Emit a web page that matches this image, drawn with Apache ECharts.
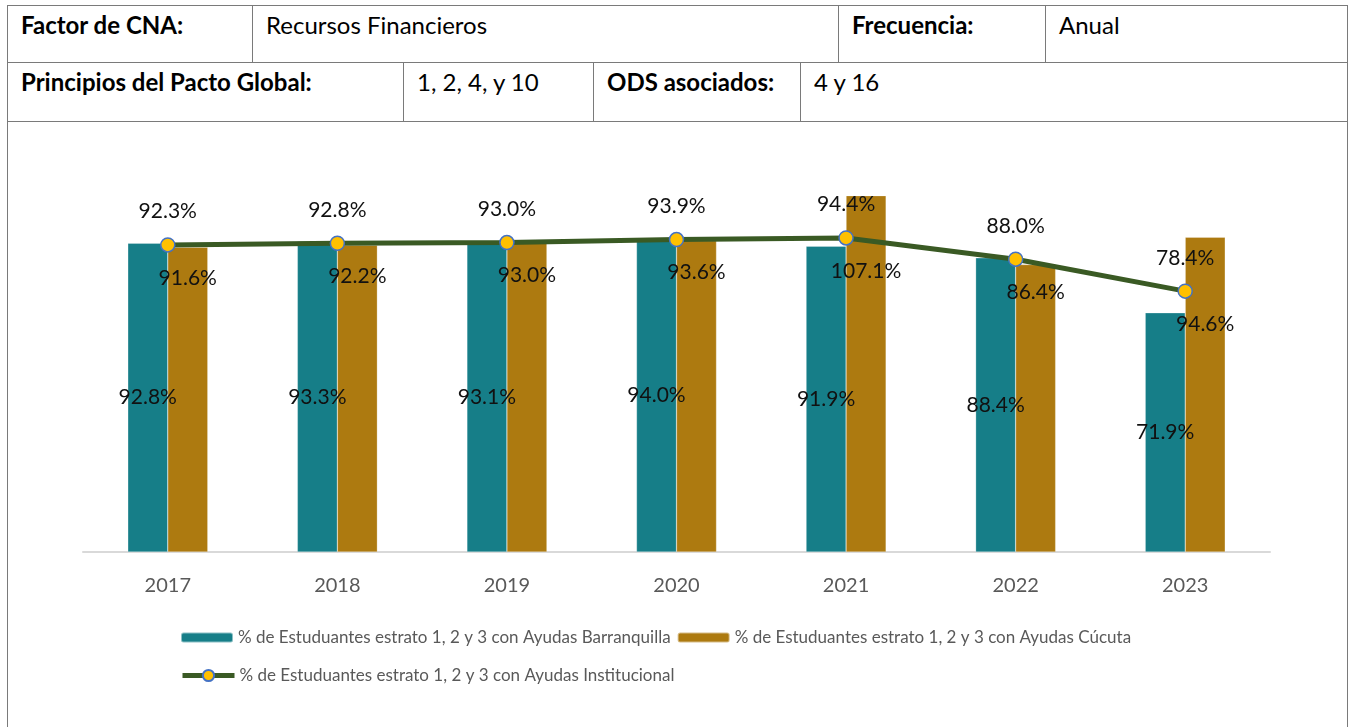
<!DOCTYPE html>
<html>
<head>
<meta charset="utf-8">
<script src="https://cdn.jsdelivr.net/npm/echarts@6/dist/echarts.min.js"></script>
<style>
  html, body { margin: 0; padding: 0; background: #fff; }
  body { width: 1352px; height: 727px; position: relative; overflow: hidden; font-family: Lato, "Noto Sans", sans-serif; }
  #chart { position: absolute; left: 0; top: 0; width: 1352px; height: 727px; }
  .cell {
    position: absolute; box-sizing: border-box; border: 1px solid #7a7a7a;
    background: #fff; font-size: 24px; line-height: 28px; color: #000;
    padding: 5px 0 0 13px; white-space: nowrap;
  }
  .b { font-weight: bold; }
  .frame { position: absolute; top: 121px; width: 1px; height: 606px; background: #7a7a7a; }
</style>
</head>
<body>
<div id="chart"></div>
<!-- tabla de encabezado -->
<div class="cell b" style="left:7px;top:5px;width:246px;height:58px;">Factor de CNA:</div>
<div class="cell" style="left:252px;top:5px;width:587px;height:58px;">Recursos Financieros</div>
<div class="cell b" style="left:838px;top:5px;width:208px;height:58px;">Frecuencia:</div>
<div class="cell" style="left:1045px;top:5px;width:303px;height:58px;">Anual</div>
<div class="cell b" style="left:7px;top:62px;width:397px;height:60px;">Principios del Pacto Global:</div>
<div class="cell" style="left:403px;top:62px;width:191px;height:60px;">1, 2, 4, y 10</div>
<div class="cell b" style="left:593px;top:62px;width:208px;height:60px;">ODS asociados:</div>
<div class="cell" style="left:800px;top:62px;width:548px;height:60px;">4 y 16</div>
<div class="frame" style="left:7px;"></div>
<div class="frame" style="left:1347px;"></div>

<script>
var years = ["2017", "2018", "2019", "2020", "2021", "2022", "2023"];
var barranquilla = [92.8, 93.3, 93.1, 94.0, 91.9, 88.4, 71.9];
var cucuta = [91.6, 92.2, 93.0, 93.6, 107.1, 86.4, 94.6];
var institucional = [92.3, 92.8, 93.0, 93.9, 94.4, 88.0, 78.4];

var nameB = "% de Estuduantes estrato 1, 2 y 3 con Ayudas Barranquilla";
var nameC = "% de Estuduantes estrato 1, 2 y 3 con Ayudas Cúcuta";
var nameI = "% de Estuduantes estrato 1, 2 y 3 con Ayudas Institucional";

var fontFam = "Lato, 'Noto Sans', sans-serif";
var pct = function (v) { return v.toFixed(1) + "%"; };

var myChart = echarts.init(document.getElementById("chart"));
var legendText = { fontFamily: fontFam, fontSize: 17, color: "#595959" };

var option = {
  animation: false,
  grid: { left: 83, right: 82, top: 186, bottom: 175 },
  legend: [
    {
      data: [nameB, nameC],
      left: 175, top: 624,
      itemWidth: 52, itemHeight: 10, itemGap: 6,
      textStyle: legendText
    },
    {
      data: [nameI],
      left: 175, top: 662,
      itemWidth: 52, itemHeight: 14,
      lineStyle: { width: 5 },
      textStyle: legendText
    }
  ],
  xAxis: {
    type: "category",
    data: years,
    axisTick: { show: false },
    axisLine: { lineStyle: { color: "#d9d9d9", width: 2 } },
    axisLabel: { fontFamily: fontFam, fontSize: 20, color: "#595959", margin: 24 }
  },
  yAxis: {
    type: "value",
    min: 0,
    max: 110,
    show: false,
    splitLine: { show: false }
  },
  series: [
    {
      name: nameB,
      type: "bar",
      data: barranquilla,
      barWidth: 40,
      barGap: "0%",
      itemStyle: { color: "#167e88", borderColor: "rgba(255,255,255,0.5)", borderWidth: 0.5 },
      label: {
        show: true, position: "inside",
        fontFamily: fontFam, fontSize: 21, color: "#111",
        formatter: function (p) { return pct(p.value); }
      }
    },
    {
      name: nameC,
      type: "bar",
      data: cucuta,
      barWidth: 40,
      itemStyle: { color: "#ad7a10", borderColor: "rgba(255,255,255,0.5)", borderWidth: 0.5 }
    },
    {
      name: nameI,
      type: "line",
      data: institucional,
      z: 5,
      symbol: "circle",
      symbolSize: 14,
      lineStyle: { color: "#3a5a24", width: 5 },
      itemStyle: { color: "#ffc000", borderColor: "#4472c4", borderWidth: 1.5 },
      label: {
        show: true, position: "top", distance: 15,
        fontFamily: fontFam, fontSize: 21, color: "#111",
        formatter: function (p) { return pct(p.value); }
      }
    },
    {
      // etiquetas de Cúcuta, colocadas bajo los puntos de la línea como en el original
      name: "etiquetasCucuta",
      type: "line",
      data: institucional,
      z: 6,
      symbol: "circle",
      symbolSize: 1,
      showAllSymbol: true,
      itemStyle: { color: "rgba(0,0,0,0)" },
      lineStyle: { opacity: 0 },
      silent: true,
      label: {
        show: true, position: "bottom", distance: 22, offset: [20, 0],
        fontFamily: fontFam, fontSize: 21, color: "#111",
        formatter: function (p) { return pct(cucuta[p.dataIndex]); }
      }
    }
  ]
};

myChart.setOption(option);
</script>
</body>
</html>
